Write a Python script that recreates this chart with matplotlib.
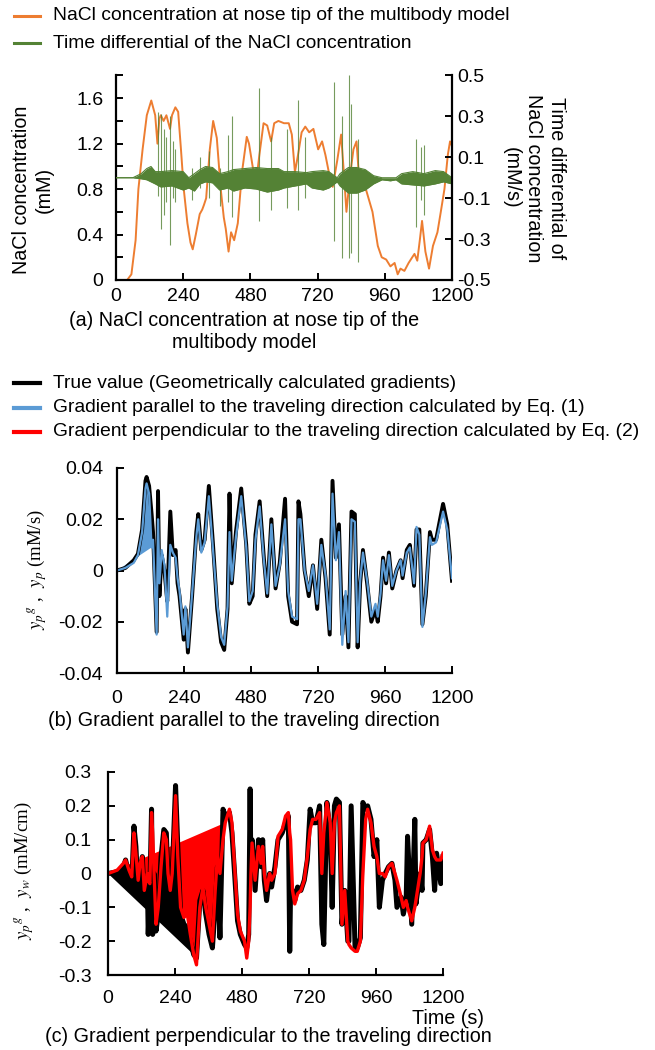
import matplotlib.pyplot as plt
import numpy as np

plt.rcParams['font.family'] = ['Liberation Sans', 'DejaVu Sans']
plt.rcParams['mathtext.fontset'] = 'stix'

# ---------------------------------------------------------------------------
# (a) NaCl concentration at nose tip (left axis, mM)
# ---------------------------------------------------------------------------
time_a = [0, 40, 55, 70, 80, 95, 110, 126, 140, 148, 155, 160, 170, 180, 193, 200,
          212, 222, 232, 242, 255, 266, 274, 285, 299, 308, 314, 322, 335, 347, 360,
          374, 385, 392, 402, 411, 422, 435, 450, 467, 475, 488, 500, 512, 527, 540,
          554, 565, 580, 600, 617, 628, 639, 650, 663, 676, 690, 705, 722, 736, 748,
          760, 774, 790, 804, 815, 823, 835, 848, 859, 868, 890, 916, 935, 949, 965,
          980, 995, 1006, 1016, 1030, 1045, 1058, 1066, 1076, 1085, 1093, 1105, 1118,
          1132, 1148, 1160, 1173, 1185, 1193, 1200]
conc_a = [0, 0.0, 0.05, 0.35, 0.8, 1.15, 1.45, 1.58, 1.45, 1.2, 1.42, 1.45, 1.4, 1.45,
          1.33, 1.45, 1.52, 1.48, 1.15, 0.8, 0.5, 0.33, 0.27, 0.4, 0.58, 0.62, 0.66,
          0.72, 1.15, 1.4, 1.25, 0.8, 0.55, 0.45, 0.25, 0.42, 0.35, 0.5, 0.95, 1.26,
          1.2, 1.0, 0.85, 1.1, 1.38, 1.36, 1.22, 1.38, 1.4, 1.38, 1.38, 1.28, 0.95,
          1.1, 1.3, 1.35, 1.3, 1.33, 1.15, 1.22, 1.1, 0.95, 0.82, 1.05, 1.28, 0.9,
          0.6, 0.9, 1.15, 1.22, 0.9, 0.82, 0.6, 0.3, 0.2, 0.18, 0.12, 0.15, 0.05, 0.1,
          0.08, 0.15, 0.2, 0.23, 0.17, 0.35, 0.52, 0.25, 0.1, 0.3, 0.42, 0.6, 0.8,
          1.1, 1.22, 1.18]

# time differential (right axis, mM/s): oscillation band envelope + spikes
time_g = [0, 60, 90, 110, 125, 140, 160, 200, 240, 260, 280, 300, 320, 345, 370, 400,
          420, 460, 500, 540, 580, 600, 640, 680, 700, 740, 760, 790, 800, 830, 860,
          890, 920, 950, 980, 1000, 1020, 1060, 1100, 1140, 1170, 1200]
diff_hi = [0, 0.0, 0.02, 0.045, 0.055, 0.03, 0.03, 0.035, 0.03, 0.0, 0.02, 0.04, 0.055,
           0.05, 0.02, 0.03, 0.04, 0.045, 0.05, 0.045, 0.045, 0.03, 0.03, 0.025, 0.03,
           0.035, 0.03, 0.0, 0.02, 0.05, 0.05, 0.04, 0.01, 0.0, 0.0, 0.0, 0.02, 0.03,
           0.02, 0.035, 0.03, 0.0]
diff_lo = [0, 0.0, -0.005, -0.01, -0.02, -0.03, -0.045, -0.04, -0.06, -0.05, -0.065,
           -0.03, -0.02, -0.025, -0.06, -0.05, -0.065, -0.05, -0.055, -0.07, -0.06,
           -0.05, -0.04, -0.03, -0.05, -0.06, -0.05, -0.02, -0.04, -0.075, -0.075,
           -0.06, -0.03, -0.01, -0.015, -0.01, -0.03, -0.035, -0.04, -0.03, -0.02, -0.03]
spike_t = [150, 160, 170, 178, 194, 205, 212, 272, 300, 332, 370, 400, 414, 512, 554,
           610, 651, 676, 778, 808, 833, 838, 866, 1071, 1088, 1099]
spike_hi = [0.32, 0.31, 0.24, 0.2, 0.3, 0.18, 0.14, 0.05, 0.1, 0.13, 0.05, 0.21, 0.3,
            0.44, 0.2, 0.24, 0.38, 0.2, 0.47, 0.3, 0.5, 0.36, 0.19, 0.19, 0.15, 0.16]
spike_lo = [-0.09, -0.25, -0.18, -0.12, -0.33, -0.1, -0.12, -0.11, -0.05, -0.1, -0.14,
            -0.12, -0.19, -0.21, -0.16, -0.15, -0.16, -0.1, -0.31, -0.39, -0.39, -0.37,
            -0.41, -0.24, -0.11, -0.18]

# ---------------------------------------------------------------------------
# (b) gradient parallel to traveling direction (mM/s)
# ---------------------------------------------------------------------------
time_b = [0, 30, 60, 75, 90, 102, 106, 115, 124, 129, 142, 147, 152, 160, 170, 180,
          191, 200, 210, 217, 224, 239, 245, 254, 269, 284, 291, 302, 314, 329, 344,
          359, 373, 384, 396, 403, 411, 426, 445, 463, 474, 486, 496, 511, 526, 538,
          553, 568, 583, 602, 613, 627, 645, 650, 657, 672, 687, 702, 717, 732, 747,
          762, 772, 784, 795, 807, 819, 829, 840, 852, 862, 871, 881, 896, 911, 926,
          934, 944, 953, 964, 974, 986, 1001, 1016, 1023, 1038, 1049, 1064, 1073,
          1083, 1094, 1106, 1121, 1128, 1143, 1168, 1183, 1200]
true_b = [0.0, 0.001, 0.004, 0.0065, 0.016, 0.035, 0.0365, 0.033, 0.022, 0.015, -0.024,
          0.031, -0.01, 0.006, 0.0, -0.012, 0.023, 0.006, 0.008, -0.005, -0.01, -0.027,
          -0.015, -0.032, -0.01, 0.015, 0.022, 0.008, 0.012, 0.033, 0.01, -0.015,
          -0.028, -0.031, -0.015, 0.03, -0.005, 0.015, 0.032, 0.01, -0.013, -0.01,
          0.014, 0.027, 0.005, -0.01, 0.02, -0.007, 0.003, 0.028, -0.01, -0.02, -0.021,
          0.027, 0.022, 0.0, -0.01, 0.002, -0.015, 0.012, -0.003, -0.025, 0.035, 0.005,
          0.018, -0.025, -0.01, -0.03, 0.023, 0.022, -0.03, -0.005, 0.008, -0.005,
          -0.02, -0.015, -0.02, -0.01, 0.005, -0.005, 0.007, -0.007, 0.0, 0.004,
          -0.003, 0.008, 0.01, -0.006, 0.016, 0.016, -0.021, -0.01, 0.015, 0.012,
          0.012, 0.026, 0.018, -0.004]
eq1_b = [0.0, 0.001, 0.003, 0.006, 0.015, 0.032, 0.034, 0.03, 0.009, 0.012, -0.025,
         0.02, -0.005, 0.008, 0.002, -0.018, 0.01, 0.007, 0.005, -0.003, -0.008, -0.025,
         -0.014, -0.03, -0.009, 0.013, 0.02, 0.007, 0.011, 0.029, 0.008, -0.013,
         -0.026, -0.029, -0.014, 0.015, -0.004, 0.013, 0.029, 0.009, -0.012, -0.008,
         0.012, 0.025, 0.004, -0.009, 0.018, -0.006, 0.002, 0.02, -0.008, -0.018,
         -0.019, 0.02, 0.02, 0.0, -0.008, 0.002, -0.013, 0.01, -0.002, -0.023, 0.03,
         0.004, 0.015, -0.029, -0.008, -0.028, 0.02, 0.019, -0.028, -0.004, 0.007,
         -0.004, -0.018, -0.013, -0.018, -0.009, 0.004, -0.004, 0.006, -0.006, 0.0,
         0.004, -0.002, 0.007, 0.009, -0.005, 0.017, 0.014, -0.022, -0.009, 0.013,
         0.01, 0.011, 0.023, 0.016, -0.003]

# ---------------------------------------------------------------------------
# (c) gradient perpendicular to traveling direction (mM/cm)
# ---------------------------------------------------------------------------
time_c = [0, 33, 55, 63, 75, 85, 93, 100, 108, 115, 123, 130, 141, 144, 150, 156, 160,
          165, 172, 180, 190, 200, 209, 215, 223, 230, 242, 250, 260, 272, 284, 295,
          307, 317, 329, 340, 350, 362, 374, 384, 392, 401, 412, 420, 435, 444, 455,
          464, 474, 489, 497, 504, 509, 512, 516, 527, 539, 548, 554, 560, 568, 579,
          586, 598, 609, 624, 636, 646, 651, 654, 661, 669, 679, 691, 703, 714, 724,
          733, 745, 758, 766, 773, 784, 796, 803, 811, 818, 829, 838, 848, 859, 863,
          871, 885, 893, 904, 913, 923, 930, 942, 953, 963, 972, 983, 993, 1005, 1017,
          1028, 1035, 1050, 1058, 1068, 1073, 1088, 1099, 1103, 1118, 1125, 1128,
          1140, 1152, 1162, 1170, 1177, 1192, 1200]
true_c = [0, 0.005, 0.02, 0.04, 0.0, -0.03, 0.14, 0.08, -0.06, 0.0, 0.05, -0.08, -0.02,
          -0.18, -0.05, 0.19, -0.18, 0.0, -0.17, -0.12, 0.05, 0.13, 0.12, -0.02, -0.08,
          0.0, 0.26, 0.08, -0.12, -0.15, -0.16, -0.2, -0.24, -0.25, -0.08, -0.05,
          -0.12, -0.18, -0.22, -0.1, 0.02, -0.19, 0.19, 0.17, 0.18, 0.12, -0.02, -0.14,
          -0.18, -0.21, -0.22, -0.18, 0.25, 0.0, 0.1, -0.05, 0.1, 0.02, 0.1, -0.02,
          -0.08, 0.0, -0.04, 0.02, 0.1, 0.12, 0.15, 0.17, -0.23, -0.05, -0.05, -0.08,
          -0.04, -0.05, -0.02, 0.04, 0.19, 0.15, 0.15, 0.2, -0.15, -0.21, 0.21, 0.12,
          -0.1, 0.2, 0.22, 0.21, -0.15, -0.05, -0.2, -0.2, 0.2, -0.22, -0.22, -0.19,
          0.21, 0.19, 0.2, 0.16, 0.05, 0.1, -0.1, -0.02, 0.0, 0.02, 0.03, -0.02, -0.1,
          -0.07, -0.12, -0.08, 0.11, -0.15, 0.16, -0.09, 0.0, -0.05, 0.09, 0.1, 0.13,
          0.05, -0.05, 0.06, -0.03, 0.05]
eq2_c = [0, 0.01, 0.03, 0.04, 0.01, -0.01, 0.12, 0.06, -0.02, 0.03, 0.05, -0.05, 0.0,
         -0.02, -0.03, 0.18, 0.12, 0.0, -0.15, -0.1, 0.02, 0.12, 0.1, 0.0, -0.05, 0.0,
         0.23, 0.05, -0.1, -0.13, -0.12, -0.18, -0.24, -0.27, -0.1, -0.04, -0.1, -0.15,
         -0.2, -0.05, 0.05, 0.0, 0.1, 0.15, 0.19, 0.15, 0.0, -0.12, -0.17, -0.2, -0.25,
         -0.2, -0.1, 0.0, 0.09, -0.02, 0.08, 0.03, 0.08, 0.0, -0.05, 0.0, -0.02, 0.0,
         0.11, 0.13, 0.17, 0.18, 0.12, 0.1, -0.05, -0.09, -0.06, -0.05, -0.02, 0.05,
         0.13, 0.16, 0.16, 0.18, 0.0, 0.12, 0.21, 0.15, 0.0, 0.15, 0.18, 0.2, -0.15,
         -0.05, -0.2, -0.21, -0.22, -0.23, -0.23, -0.2, 0.0, 0.16, 0.19, 0.15, 0.08,
         0.05, 0.0, 0.0, -0.01, 0.02, 0.03, 0.0, -0.02, -0.07, -0.1, -0.08, -0.1,
         -0.14, -0.1, -0.08, 0.0, 0.05, 0.09, 0.1, 0.14, 0.07, 0.05, 0.04, 0.04, 0.06]

xticks = [0, 240, 480, 720, 960, 1200]

ORANGE = '#ED7D31'
GREEN = '#548235'
BLUE = '#5B9BD5'
RED = '#FF0000'
FS = 14.2     # body text
LFS = 13.9    # legend text
TFS = 14      # tick labels

W, H = 655, 1050
fig = plt.figure(figsize=(W / 100, H / 100), dpi=100)


def px_axes(left, right, top, bottom):
    return fig.add_axes([left / W, 1 - bottom / H, (right - left) / W, (bottom - top) / H])


def style(ax, xpad, ypad):
    ax.spines['top'].set_visible(False)
    ax.spines['right'].set_visible(False)
    for s in ['left', 'bottom']:
        ax.spines[s].set_linewidth(1.6)
    ax.tick_params(which='both', direction='in', length=5, width=1.4, labelsize=TFS)
    ax.tick_params(axis='x', pad=xpad)
    ax.tick_params(axis='y', pad=ypad)
    ax.set_xlim(0, 1200)
    ax.set_xticks(xticks)


def legend_row(y, color, text, lw=2.2):
    fig.add_artist(plt.Line2D([14 / W, 40 / W], [1 - y / H, 1 - y / H], color=color, lw=lw))
    fig.text(53 / W, 1 - y / H, text, fontsize=LFS, va='center', ha='left')


# ============================== (a) ==============================
legend_row(16, ORANGE, 'NaCl concentration at nose tip of the multibody model')
legend_row(43, GREEN, 'Time differential of the NaCl concentration')

ax1 = px_axes(116, 452, 75.5, 280)
style(ax1, 6, 9)
ax1.plot(time_a, conc_a, color=ORANGE, lw=1.4)
ax1.set_ylim(0, 1.8)
ax1.set_yticks(np.arange(0, 1.81, 0.2), minor=True)
ax1.set_yticks([0, 0.4, 0.8, 1.2, 1.6])
ax1.set_yticklabels(['0', '0.4', '0.8', '1.2', '1.6'])

ax1r = ax1.twinx()
ax1r.set_ylim(-0.5, 0.5)
ax1r.vlines(spike_t, spike_lo, spike_hi, color=GREEN, lw=0.8, alpha=0.8)
ax1r.fill_between(time_g, diff_lo, diff_hi, color=GREEN, lw=0)
ax1r.plot(time_g, diff_hi, color=GREEN, lw=0.8)
ax1r.plot(time_g, diff_lo, color=GREEN, lw=0.8)
ax1r.spines['top'].set_visible(False)
ax1r.spines['right'].set_linewidth(1.6)
ax1r.spines['left'].set_visible(False)
ax1r.spines['bottom'].set_visible(False)
ax1r.set_yticks([-0.5, -0.3, -0.1, 0.1, 0.3, 0.5])
ax1r.set_yticklabels(['-0.5', '-0.3', '-0.1', '0.1', '0.3', '0.5'])
ax1r.tick_params(direction='in', length=5, width=1.4, labelsize=TFS, pad=4)
ax1.set_xlim(0, 1200)

fig.text(33 / W, 1 - 190 / H, 'NaCl concentration\n(mM)', rotation=90, fontsize=FS,
         ha='center', va='center', multialignment='center', linespacing=1.25)
fig.text(534 / W, 1 - 178 / H, 'Time differential of\nNaCl concentration\n(mM/s)',
         rotation=270, fontsize=FS, ha='center', va='center', multialignment='center',
         linespacing=1.25)
fig.text(244 / W, 1 - 331 / H, '(a) NaCl concentration at nose tip of the\nmultibody model',
         fontsize=FS, ha='center', va='center', multialignment='center', linespacing=1.2)

# ============================== (b) ==============================
legend_row(383, 'black', 'True value (Geometrically calculated gradients)', lw=3)
legend_row(408, BLUE, 'Gradient parallel to the traveling direction calculated by Eq. (1)', lw=3)
legend_row(432, RED, 'Gradient perpendicular to the traveling direction calculated by Eq. (2)', lw=3)

ax2 = px_axes(117, 452, 468, 673)
style(ax2, 12, 10)
tb = np.array(time_b)
early_b = tb <= 124
ax2.plot(time_b, true_b, color='black', lw=2.8)
ax2.fill(tb[early_b], np.array(eq1_b)[early_b], color=BLUE, lw=0)
ax2.plot(time_b, eq1_b, color=BLUE, lw=1.6)
ax2.set_ylim(-0.04, 0.04)
ax2.set_yticks([-0.04, -0.02, 0, 0.02, 0.04])
ax2.set_yticklabels(['-0.04', '-0.02', '0', '0.02', '0.04'])
fig.text(37 / W, 1 - 570 / H, r'$y_p{}^{g}$ ,  $y_p$ (mM/s)', rotation=90, fontsize=13.5,
         family='Liberation Serif', ha='center', va='center')
fig.text(244 / W, 1 - 720 / H, '(b) Gradient parallel to the traveling direction',
         fontsize=FS, ha='center', va='center')

# ============================== (c) ==============================
ax3 = px_axes(108, 443, 772, 975)
style(ax3, 11, 12)
tc = np.array(time_c)
ax3.fill(tc[tc <= 307], np.array(true_c)[tc <= 307], color='black', lw=0)
ax3.plot(time_c, true_c, color='black', lw=3.6)
ax3.fill(tc[tc <= 420], np.array(eq2_c)[tc <= 420], color=RED, lw=0)
ax3.plot(time_c, eq2_c, color=RED, lw=2.4)
ax3.set_ylim(-0.3, 0.3)
ax3.set_yticks([-0.3, -0.2, -0.1, 0, 0.1, 0.2, 0.3])
ax3.set_yticklabels(['-0.3', '-0.2', '-0.1', '0', '0.1', '0.2', '0.3'])
fig.text(24 / W, 1 - 871 / H, r'$y_p{}^{g}$ ,  $y_w$ (mM/cm)', rotation=90, fontsize=13.5,
         family='Liberation Serif', ha='center', va='center')
fig.text(484 / W, 1 - 1018 / H, 'Time (s)', fontsize=FS, ha='right', va='center')
fig.text(268 / W, 1 - 1036 / H, '(c) Gradient perpendicular to the traveling direction',
         fontsize=FS, ha='center', va='center')

fig.savefig('out.png', dpi=100, facecolor='white')
